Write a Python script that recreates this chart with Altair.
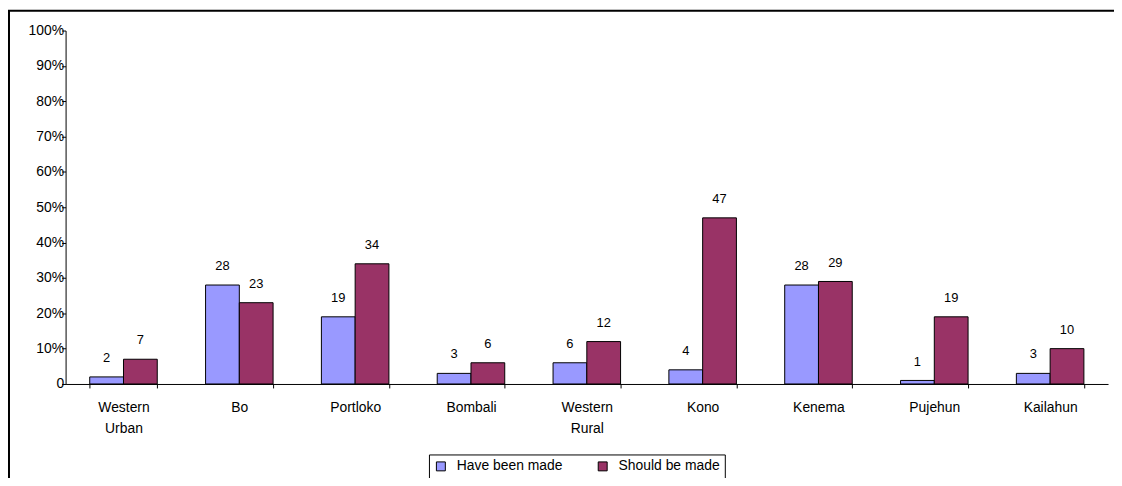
import altair as alt
import pandas as pd

districts = ["Western Urban", "Bo", "Portloko", "Bombali", "Western Rural",
             "Kono", "Kenema", "Pujehun", "Kailahun"]
have_been_made = [2, 28, 19, 3, 6, 4, 28, 1, 3]
should_be_made = [7, 23, 34, 6, 12, 47, 29, 19, 10]
series_names = ["Have been made", "Should be made"]
series_colors = ["#9999FF", "#993366"]
y_ticks = [0, 10, 20, 30, 40, 50, 60, 70, 80, 90, 100]

rows = []
for d, a, b in zip(districts, have_been_made, should_be_made):
    rows.append({"district": d, "series": series_names[0], "value": a})
    rows.append({"district": d, "series": series_names[1], "value": b})
df = pd.DataFrame(rows)

FONT = "Liberation Sans"

x_enc = alt.X(
    "district:N", sort=districts, title=None,
    scale=alt.Scale(paddingInner=0.417, paddingOuter=0.2085),
    axis=alt.Axis(
        labelAngle=0, tickBand="extent", tickSize=4, tickColor="black",
        domainColor="black", labelColor="black", labelFontSize=14,
        labelFont=FONT, labelPadding=13, labelLineHeight=21,
        labelExpr="split(datum.label, ' ')", labelBaseline="top",
    ),
)
xoff_enc = alt.XOffset("series:N", sort=series_names, scale=alt.Scale(paddingInner=0, paddingOuter=0))
y_enc = alt.Y(
    "value:Q", title=None,
    scale=alt.Scale(domain=[0, 100], nice=False),
    axis=alt.Axis(
        values=y_ticks, grid=False, tickSize=4, tickColor="black",
        domainColor="black", labelColor="black", labelFontSize=14, labelFont=FONT,
        labelPadding=-2, labelOverlap=False,
        labelExpr="datum.value == 0 ? '0' : datum.value + '%'",
    ),
)

base = alt.Chart(df).encode(x=x_enc, xOffset=xoff_enc, y=y_enc)

bars = base.mark_bar(stroke="black", strokeWidth=1).encode(
    color=alt.Color(
        "series:N", sort=series_names,
        scale=alt.Scale(domain=series_names, range=series_colors),
        legend=alt.Legend(
            title=None, orient="none", legendX=366, legendY=427,
            direction="horizontal", symbolType="square", symbolSize=81,
            symbolStrokeColor="black", symbolStrokeWidth=1,
            labelFontSize=14, labelFont=FONT, labelColor="black",
            strokeColor="black", padding=5, columnPadding=33, labelOffset=9,
        ),
    ),
)

labels = base.mark_text(
    baseline="bottom", dy=-12, fontSize=13, font=FONT, color="black"
).encode(text="value:Q")

border = alt.Chart(pd.DataFrame({"a": [0]})).mark_rect(
    fillOpacity=0, stroke="black", strokeWidth=2
).encode(
    x=alt.value(-57), x2=alt.value(1300), y=alt.value(-20), y2=alt.value(700)
)

chart = alt.layer(bars, labels, border).properties(
    width=1050, height=356,
    autosize=alt.AutoSizeParams(type="none"),
    padding={"left": 58, "top": 21, "right": 6, "bottom": 93},
).configure_view(stroke=None)

chart.save("out.html", embed_options={"renderer": "svg", "actions": False})
